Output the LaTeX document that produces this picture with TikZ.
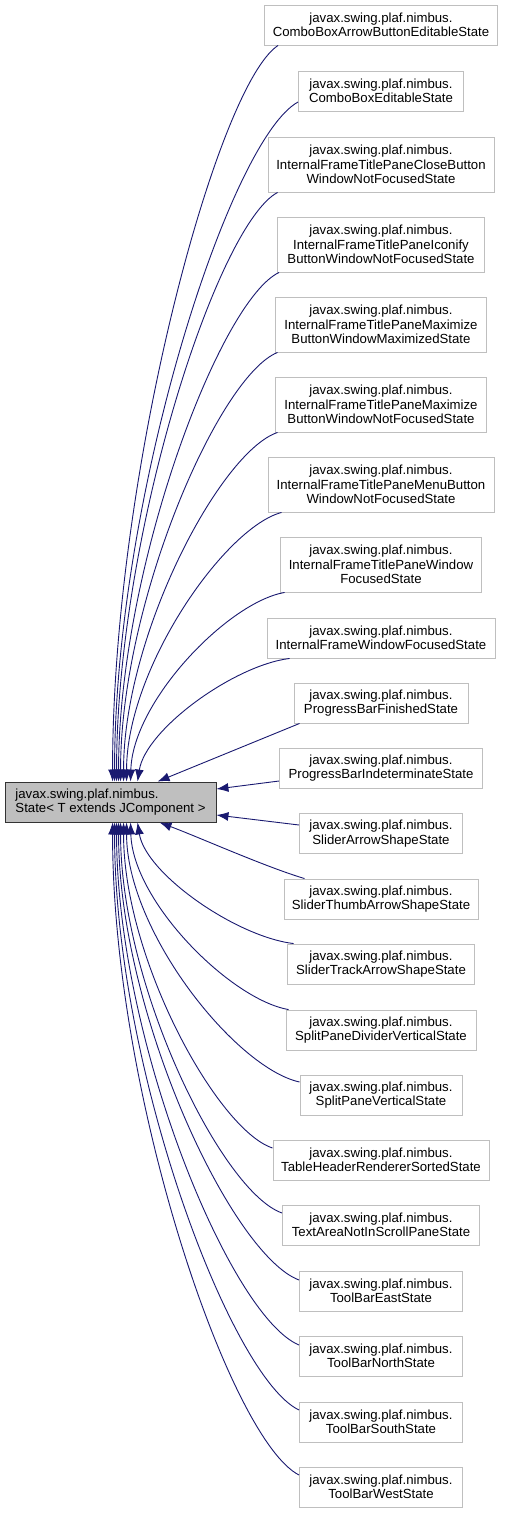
\documentclass[tikz,border=0pt]{standalone}
\usepackage{fontspec}
\setmainfont{Liberation Sans}
\usetikzlibrary{arrows.meta}
\definecolor{edgeblue}{HTML}{191970}
\begin{document}
\begin{tikzpicture}[
    x=1pt, y=-1pt,
    every node/.style={font=\fontsize{13.2}{14.5}\selectfont},
    derived/.style={draw=gray!50, line width=.9pt, fill=white, align=center,
        inner sep=0pt, minimum height=40pt},
    tall/.style={minimum height=55pt},
    basecls/.style={draw=black!80, line width=.9pt, fill=gray!50, align=left,
        inner sep=0pt, minimum width=211pt, minimum height=40pt},
    inh/.style={edgeblue, line width=.9pt, -{Latex[length=12pt,width=9pt]}}]
    \useasboundingbox (0,0) rectangle (504,1513);

    % Basisklasse links.
    \node[basecls] (base) at (110.5,802)
        {javax.swing.plaf.nimbus.\\State< T extends JComponent >};

    % Abgeleitete Klassen, alle auf einer Spalte.
    \node[derived, minimum width=233pt] (c1) at (381,25)
        {javax.swing.plaf.nimbus.\\ComboBoxArrowButtonEditableState};
    \node[derived, minimum width=165pt] (c2) at (381,91)
        {javax.swing.plaf.nimbus.\\ComboBoxEditableState};
    \node[derived, tall, minimum width=226pt] (c3) at (381,164.5)
        {javax.swing.plaf.nimbus.\\InternalFrameTitlePaneCloseButton\\WindowNotFocusedState};
    \node[derived, tall, minimum width=207pt] (c4) at (381,244.5)
        {javax.swing.plaf.nimbus.\\InternalFrameTitlePaneIconify\\ButtonWindowNotFocusedState};
    \node[derived, tall, minimum width=211pt] (c5) at (381,324.5)
        {javax.swing.plaf.nimbus.\\InternalFrameTitlePaneMaximize\\ButtonWindowMaximizedState};
    \node[derived, tall, minimum width=211pt] (c6) at (381,404.5)
        {javax.swing.plaf.nimbus.\\InternalFrameTitlePaneMaximize\\ButtonWindowNotFocusedState};
    \node[derived, tall, minimum width=226pt] (c7) at (381,484.5)
        {javax.swing.plaf.nimbus.\\InternalFrameTitlePaneMenuButton\\WindowNotFocusedState};
    \node[derived, tall, minimum width=201pt] (c8) at (381,564.5)
        {javax.swing.plaf.nimbus.\\InternalFrameTitlePaneWindow\\FocusedState};
    \node[derived, minimum width=228pt] (c9) at (381,638)
        {javax.swing.plaf.nimbus.\\InternalFrameWindowFocusedState};
    \node[derived, minimum width=174pt] (c10) at (381,703)
        {javax.swing.plaf.nimbus.\\ProgressBarFinishedState};
    \node[derived, minimum width=203pt] (c11) at (381,768)
        {javax.swing.plaf.nimbus.\\ProgressBarIndeterminateState};
    \node[derived, minimum width=163pt] (c12) at (381,833.5)
        {javax.swing.plaf.nimbus.\\SliderArrowShapeState};
    \node[derived, minimum width=194pt] (c13) at (381,899)
        {javax.swing.plaf.nimbus.\\SliderThumbArrowShapeState};
    \node[derived, minimum width=187pt] (c14) at (381,964)
        {javax.swing.plaf.nimbus.\\SliderTrackArrowShapeState};
    \node[derived, minimum width=190pt] (c15) at (381,1030)
        {javax.swing.plaf.nimbus.\\SplitPaneDividerVerticalState};
    \node[derived, minimum width=162pt] (c16) at (381,1095)
        {javax.swing.plaf.nimbus.\\SplitPaneVerticalState};
    \node[derived, minimum width=216pt] (c17) at (381,1160)
        {javax.swing.plaf.nimbus.\\TableHeaderRendererSortedState};
    \node[derived, minimum width=197pt] (c18) at (381,1225)
        {javax.swing.plaf.nimbus.\\TextAreaNotInScrollPaneState};
    \node[derived, minimum width=163pt] (c19) at (381,1291)
        {javax.swing.plaf.nimbus.\\ToolBarEastState};
    \node[derived, minimum width=163pt] (c20) at (381,1356)
        {javax.swing.plaf.nimbus.\\ToolBarNorthState};
    \node[derived, minimum width=163pt] (c21) at (381,1422)
        {javax.swing.plaf.nimbus.\\ToolBarSouthState};
    \node[derived, minimum width=163pt] (c22) at (381,1487)
        {javax.swing.plaf.nimbus.\\ToolBarWestState};

    % Kanten von oben auf die Oberkante der Basis.
    \draw[inh] ([xshift=14pt]c1.south west) .. controls +(-61,40) and +(0,-309) .. ([xshift=108pt]base.north west);
    \draw[inh] ([yshift=-11pt]c2.west) .. controls +(-68,37) and +(0,-286) .. ([xshift=110pt]base.north west);
    \draw[inh] ([xshift=10pt]c3.south west) .. controls +(-60,32) and +(0,-248) .. ([xshift=112pt]base.north west);
    \draw[inh] ([xshift=2pt]c4.south west) .. controls +(-59,28) and +(0,-214) .. ([xshift=114pt]base.north west);
    \draw[inh] ([xshift=2.5pt]c5.south west) .. controls +(-58,23) and +(0,-181) .. ([xshift=116pt]base.north west);
    \draw[inh] ([xshift=2.5pt]c6.south west) .. controls +(-57,19) and +(0,-147) .. ([xshift=119pt]base.north west);
    \draw[inh] ([xshift=14pt]c7.south west) .. controls +(-57,15) and +(0,-113) .. ([xshift=122pt]base.north west);
    \draw[inh] ([xshift=4.5pt]c8.south west) .. controls +(-57,10) and +(2,-80) .. ([xshift=126pt]base.north west);
    \draw[inh] ([xshift=23pt]c9.south west) .. controls +(-56,7) and +(8,-52) .. ([xshift=133pt]base.north west);
    \draw[inh] ([xshift=6pt]c10.south west) -- ([xshift=153pt]base.north west);

    % Zwei gerade Kanten auf die rechte Seite.
    \draw[inh] ([yshift=-13pt]c11.west) -- ([yshift=13pt]base.east);
    \draw[inh] ([yshift=8.5pt]c12.west) -- ([yshift=-13pt]base.east);

    % Kanten von unten auf die Unterkante der Basis.
    \draw[inh] ([xshift=21pt]c13.north west) .. controls +(-40,-12) and +(40,15) .. ([xshift=155pt]base.south west);
    \draw[inh] ([xshift=6.5pt]c14.north west) .. controls +(-58,-7) and +(8,51) .. ([xshift=133pt]base.south west);
    \draw[inh] ([xshift=3pt]c15.north west) .. controls +(-58,-10) and +(2,79) .. ([xshift=126pt]base.south west);
    \draw[inh] ([yshift=13pt]c16.west) .. controls +(-64,-14) and +(0,109) .. ([xshift=122pt]base.south west);
    \draw[inh] ([yshift=12pt]c17.west) .. controls +(-55,-18) and +(0,137) .. ([xshift=119pt]base.south west);
    \draw[inh] ([yshift=12pt]c18.west) .. controls +(-60,-21) and +(0,164) .. ([xshift=116pt]base.south west);
    \draw[inh] ([yshift=11pt]c19.west) .. controls +(-67,-25) and +(0,192) .. ([xshift=114pt]base.south west);
    \draw[inh] ([yshift=11pt]c20.west) .. controls +(-68,-28) and +(0,220) .. ([xshift=112pt]base.south west);
    \draw[inh] ([yshift=12pt]c21.west) .. controls +(-68,-32) and +(0,247) .. ([xshift=110pt]base.south west);
    \draw[inh] ([yshift=12pt]c22.west) .. controls +(-69,-35) and +(0,274) .. ([xshift=108pt]base.south west);
\end{tikzpicture}
\end{document}
